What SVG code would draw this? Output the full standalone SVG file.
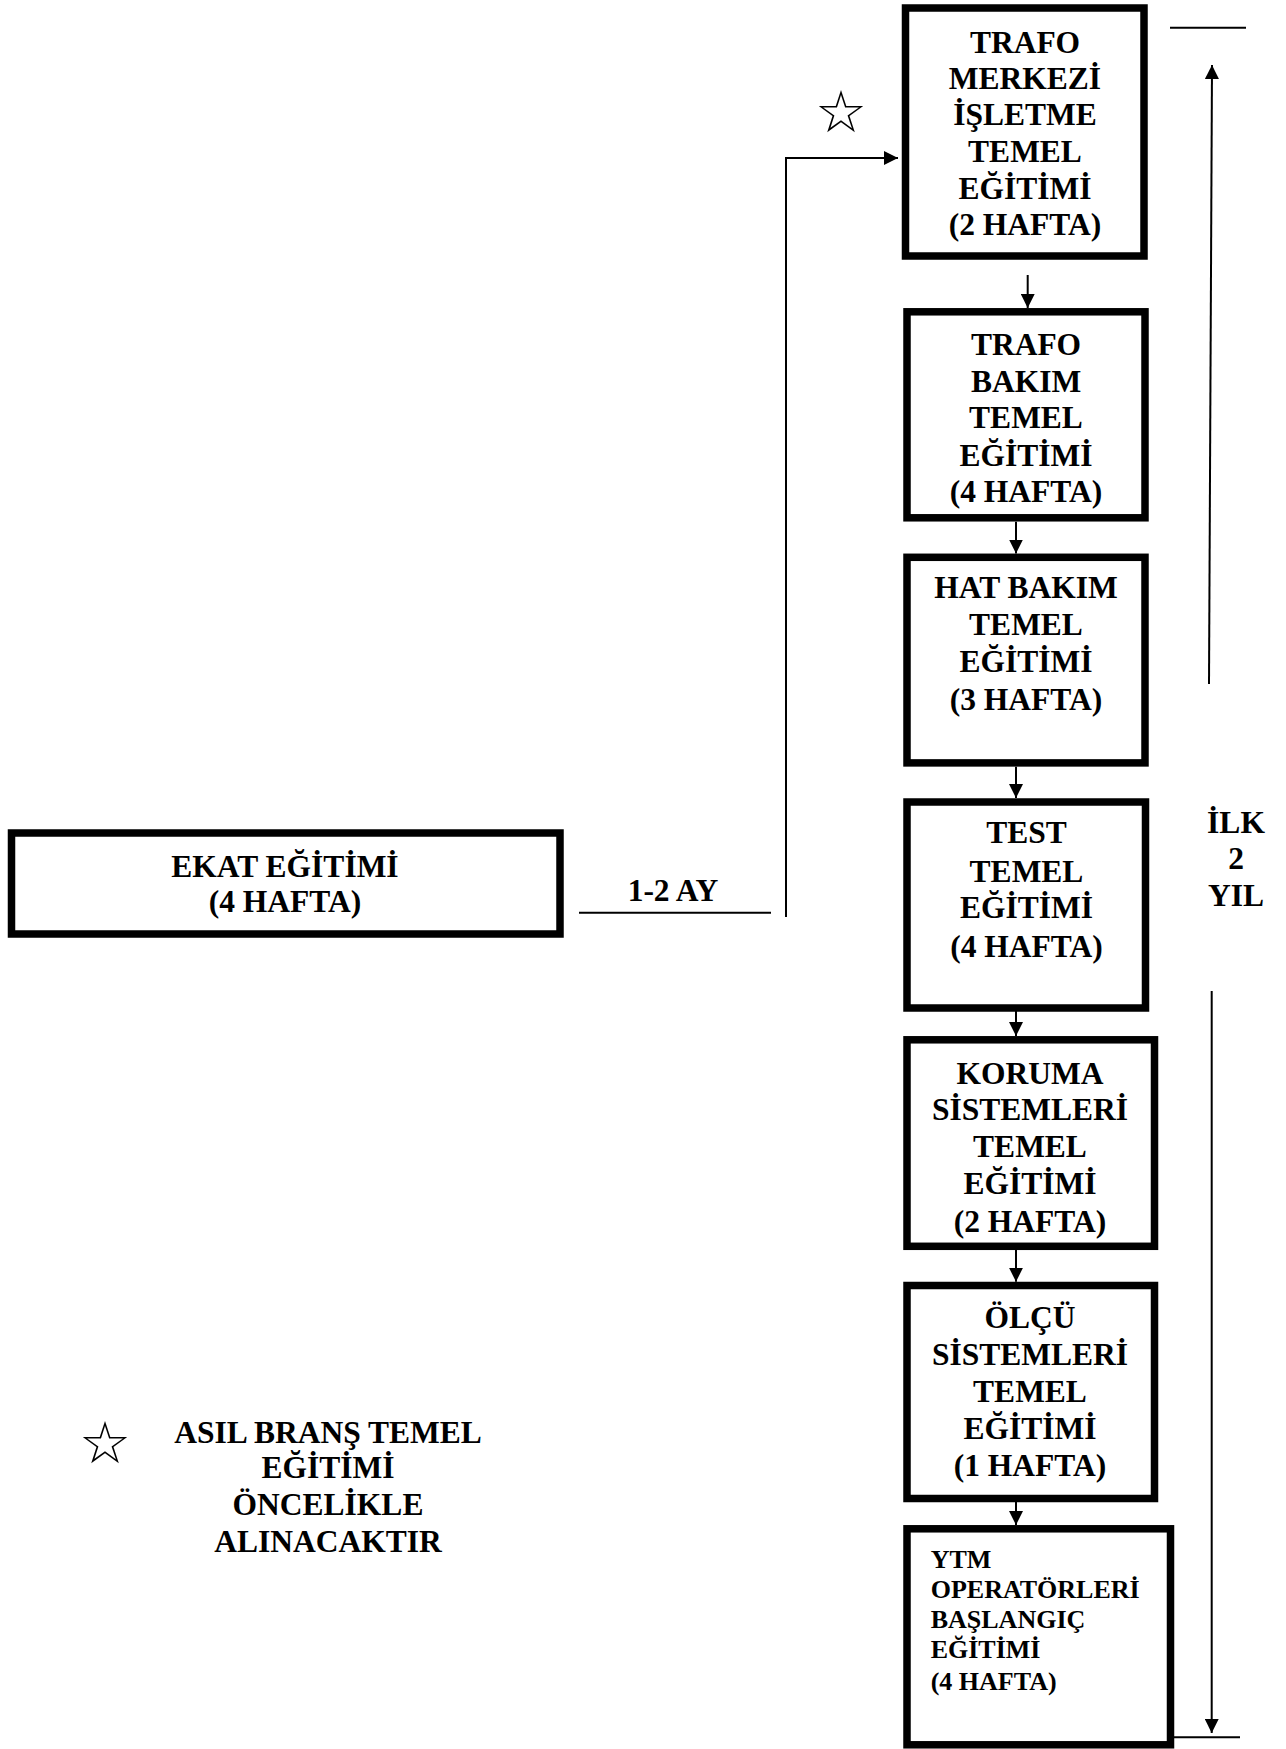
<svg xmlns="http://www.w3.org/2000/svg" width="1286" height="1749" viewBox="0 0 1286 1749">
<style>
.box{fill:#fff;stroke:#000;stroke-width:7.5}
.t{font-family:"Liberation Serif","Times New Roman",serif;font-weight:bold;font-size:31.5px;fill:#000;text-anchor:middle}
.ts{font-family:"Liberation Serif","Times New Roman",serif;font-weight:bold;font-size:26px;fill:#000}
.ln{stroke:#000;stroke-width:2;fill:none}
.star{font-family:"DejaVu Sans",sans-serif;font-size:58px;fill:#000;text-anchor:middle}
</style>
<defs>
<marker id="ah" markerUnits="userSpaceOnUse" markerWidth="14" markerHeight="14" refX="14" refY="7" orient="auto">
<path d="M0,0 L14,7 L0,14 z" fill="#000"/>
</marker>
</defs>
<rect width="1286" height="1749" fill="#fff"/>
<g id="connectors">
<path class="ln" d="M786,917 V158 H898" marker-end="url(#ah)"/>
<line class="ln" x1="579" y1="912.7" x2="771" y2="912.7"/>
<line class="ln" x1="1027.7" y1="275" x2="1027.7" y2="308" marker-end="url(#ah)"/>
<line class="ln" x1="1016" y1="521.7" x2="1016" y2="553.5" marker-end="url(#ah)"/>
<line class="ln" x1="1016" y1="766.7" x2="1016" y2="798" marker-end="url(#ah)"/>
<line class="ln" x1="1016" y1="1001.7" x2="1016" y2="1036" marker-end="url(#ah)"/>
<line class="ln" x1="1016" y1="1250" x2="1016" y2="1281.7" marker-end="url(#ah)"/>
<line class="ln" x1="1016" y1="1502" x2="1016" y2="1525" marker-end="url(#ah)"/>
<line class="ln" x1="1170" y1="27.7" x2="1246" y2="27.7"/>
<line class="ln" x1="1209" y1="684" x2="1212" y2="65" marker-end="url(#ah)"/>
<line class="ln" x1="1211.7" y1="991" x2="1211.7" y2="1733" marker-end="url(#ah)"/>
<line class="ln" x1="1165" y1="1737.3" x2="1240" y2="1737.3"/>
</g>
<g id="ekat">
<rect class="box" x="11.5" y="833" width="548.5" height="101"/>
<text class="t" x="285" y="876.7">EKAT EĞİTİMİ</text>
<text class="t" x="285" y="911.7">(4 HAFTA)</text>
</g>
<g id="label-1-2-ay">
<text class="t" x="673" y="900.7">1-2 AY</text>
</g>
<g id="star-top">
<text class="star" x="841" y="132">☆</text>
</g>
<g id="box1">
<rect class="box" x="905.5" y="8" width="238.5" height="248"/>
<text class="t" x="1025" y="52.7">TRAFO</text>
<text class="t" x="1025" y="88.5">MERKEZİ</text>
<text class="t" x="1025" y="125">İŞLETME</text>
<text class="t" x="1025" y="161.7">TEMEL</text>
<text class="t" x="1025" y="199">EĞİTİMİ</text>
<text class="t" x="1025" y="235">(2 HAFTA)</text>
</g>
<g id="box2">
<rect class="box" x="907" y="311.8" width="238" height="206"/>
<text class="t" x="1026" y="355">TRAFO</text>
<text class="t" x="1026" y="391.7">BAKIM</text>
<text class="t" x="1026" y="428.3">TEMEL</text>
<text class="t" x="1026" y="465.7">EĞİTİMİ</text>
<text class="t" x="1026" y="502.3">(4 HAFTA)</text>
</g>
<g id="box3">
<rect class="box" x="907" y="557.3" width="238" height="205.6"/>
<text class="t" x="1026" y="598.3">HAT BAKIM</text>
<text class="t" x="1026" y="635">TEMEL</text>
<text class="t" x="1026" y="672.3">EĞİTİMİ</text>
<text class="t" x="1026" y="710">(3 HAFTA)</text>
</g>
<g id="box4">
<rect class="box" x="907" y="802" width="238.5" height="206"/>
<text class="t" x="1026.5" y="843.3">TEST</text>
<text class="t" x="1026.5" y="881.7">TEMEL</text>
<text class="t" x="1026.5" y="918.3">EĞİTİMİ</text>
<text class="t" x="1026.5" y="956.7">(4 HAFTA)</text>
</g>
<g id="box5">
<rect class="box" x="907" y="1039.8" width="247.5" height="206.5"/>
<text class="t" x="1030" y="1084">KORUMA</text>
<text class="t" x="1030" y="1120">SİSTEMLERİ</text>
<text class="t" x="1030" y="1156.7">TEMEL</text>
<text class="t" x="1030" y="1194.3">EĞİTİMİ</text>
<text class="t" x="1030" y="1231.7">(2 HAFTA)</text>
</g>
<g id="box6">
<rect class="box" x="907" y="1285.5" width="247.5" height="213"/>
<text class="t" x="1030" y="1328.3">ÖLÇÜ</text>
<text class="t" x="1030" y="1365">SİSTEMLERİ</text>
<text class="t" x="1030" y="1402.3">TEMEL</text>
<text class="t" x="1030" y="1439">EĞİTİMİ</text>
<text class="t" x="1030" y="1475.7">(1 HAFTA)</text>
</g>
<g id="box7">
<rect class="box" x="907" y="1528.8" width="263.5" height="216"/>
<text class="ts" x="930.7" y="1568.3">YTM</text>
<text class="ts" x="930.7" y="1598.3">OPERATÖRLERİ</text>
<text class="ts" x="930.7" y="1628.3">BAŞLANGIÇ</text>
<text class="ts" x="930.7" y="1658.3">EĞİTİMİ</text>
<text class="ts" x="930.7" y="1690">(4 HAFTA)</text>
</g>
<g id="label-ilk-2-yil">
<text class="t" x="1236" y="832.7">İLK</text>
<text class="t" x="1236" y="869.3">2</text>
<text class="t" x="1236" y="906">YIL</text>
</g>
<g id="legend">
<text class="star" x="105" y="1463">☆</text>
<text class="t" x="328" y="1442.7">ASIL BRANŞ TEMEL</text>
<text class="t" x="328" y="1478.3">EĞİTİMİ</text>
<text class="t" x="328" y="1515">ÖNCELİKLE</text>
<text class="t" x="328" y="1551.7">ALINACAKTIR</text>
</g>
</svg>
